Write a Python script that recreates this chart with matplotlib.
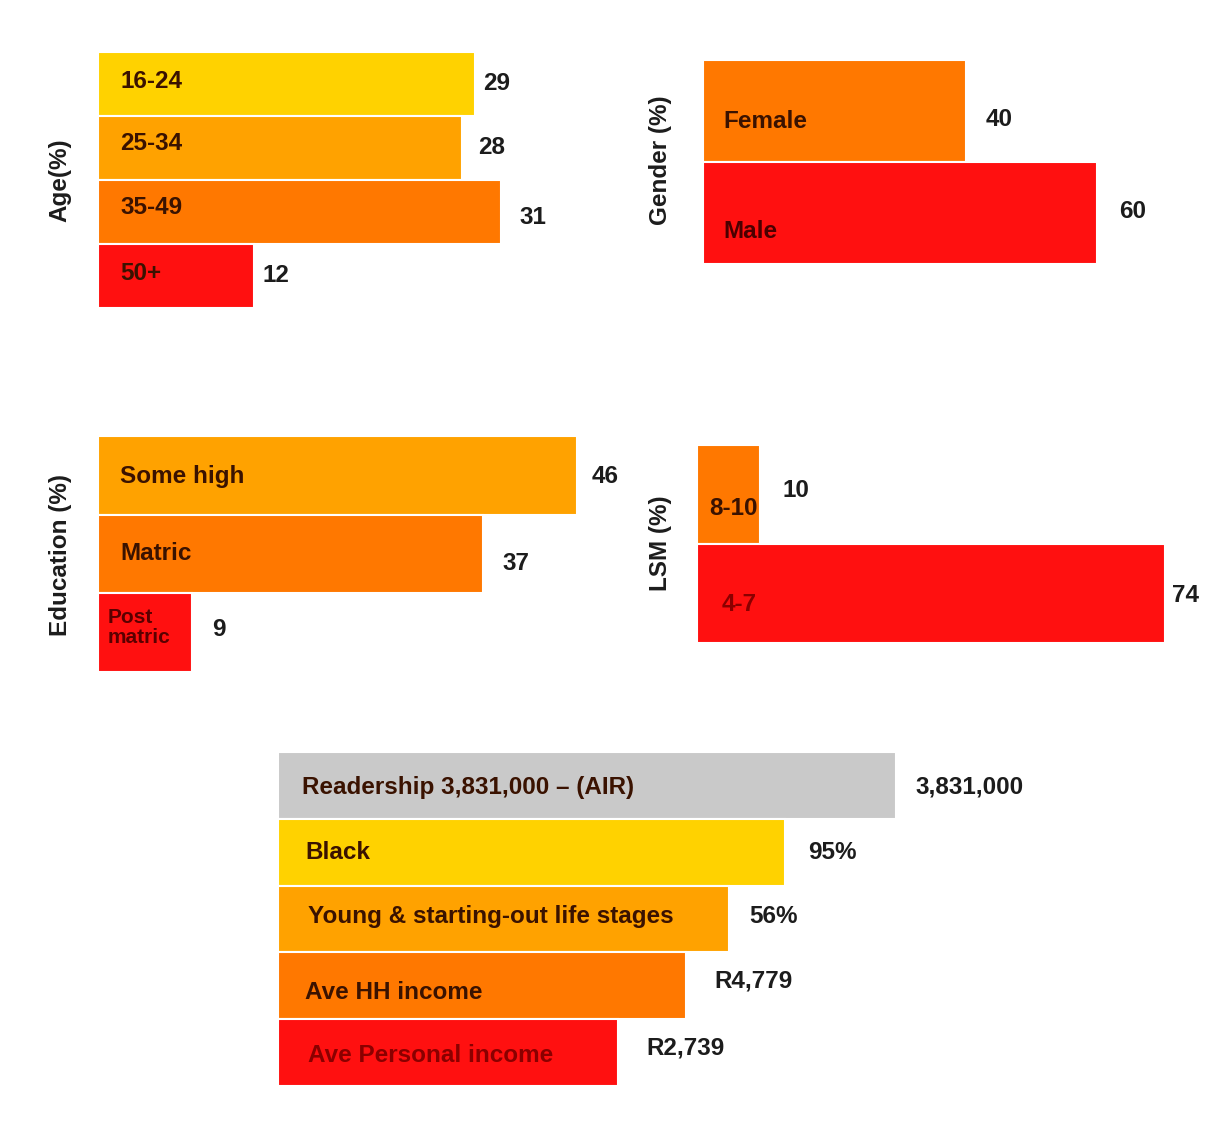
import matplotlib
matplotlib.use("Agg")
import matplotlib.pyplot as plt

# ---------------- data ----------------
age_labels = ["16-24", "25-34", "35-49", "50+"]
age_values = [29, 28, 31, 12]

gender_labels = ["Female", "Male"]
gender_values = [40, 60]

edu_labels = ["Some high", "Matric", "Post\nmatric"]
edu_values = [46, 37, 9]

lsm_labels = ["8-10", "4-7"]
lsm_values = [10, 74]

summary_labels = ["Readership 3,831,000 \u2013 (AIR)", "Black",
                  "Young & starting-out life stages", "Ave HH income",
                  "Ave Personal income"]
summary_bar_values = [100, 82, 73, 66, 55]   # relative bar lengths
summary_value_text = ["3,831,000", "95%", "56%", "R4,779", "R2,739"]

# ---------------- styles ----------------
YEL = "#FFD200"
AMB = "#FFA200"
ORG = "#FF7800"
RED = "#FF1010"
GRY = "#C9C9C9"

W, H = 1225, 1129
DPI = 100
FONT = "Liberation Sans"
FS = 17.5
INK = "#3a1200"
VAL = "#1c1c1c"

fig = plt.figure(figsize=(W / DPI, H / DPI), dpi=DPI)
fig.patch.set_facecolor("white")


def px_axes(left, top, width, height):
    return fig.add_axes([left / W, 1 - (top + height) / H, width / W, height / H])


def panel(left, top, height, scale, labels, values, colors, value_texts,
          lab_dx, lab_dy, val_dx, val_dy, ink_colors=None, width=560,
          lab_fs=None):
    ax = px_axes(left, top, width, height)
    n = len(values)
    ys = list(range(n))
    ax.barh(ys, values, height=1.0, color=colors, edgecolor="white",
            linewidth=1.5)
    ax.set_xlim(0, width / scale)
    ax.set_ylim(n - 0.5, -0.5)
    ax.axis("off")
    for i in range(n):
        ic = INK if ink_colors is None else ink_colors[i]
        fs = FS if lab_fs is None else lab_fs[i]
        ax.annotate(labels[i], xy=(0, ys[i]), xytext=(lab_dx[i], -lab_dy[i]),
                    textcoords="offset pixels", ha="left", va="center",
                    fontsize=fs, fontweight="bold", family=FONT, color=ic,
                    linespacing=1.05)
        ax.annotate(value_texts[i], xy=(values[i], ys[i]),
                    xytext=(val_dx[i], -val_dy[i]), textcoords="offset pixels",
                    ha="left", va="center", fontsize=FS, fontweight="bold",
                    family=FONT, color=VAL)
    return ax


# Age
panel(98, 52, 256, 13.0, age_labels, age_values, [YEL, AMB, ORG, RED],
      [str(v) for v in age_values],
      lab_dx=[22, 22, 22, 22], lab_dy=[-2, -4, -4, -2],
      val_dx=[8, 16, 18, 8], val_dy=[0, 0, 6, 0])

# Gender
panel(703, 60, 204, 6.57, gender_labels, gender_values, [ORG, RED],
      [str(v) for v in gender_values],
      lab_dx=[20, 20], lab_dy=[11, 18],
      val_dx=[20, 22], val_dy=[8, -2],
      ink_colors=[INK, "#4a0000"], width=500)

# Education
panel(98, 436, 236, 10.41, edu_labels, edu_values, [AMB, ORG, RED],
      [str(v) for v in edu_values],
      lab_dx=[22, 22, 10], lab_dy=[1, -1, -5],
      val_dx=[15, 19, 20], val_dy=[1, 9, -3],
      ink_colors=[INK, INK, "#5a0000"], lab_fs=[FS, FS, 15])

# LSM
panel(697, 445, 198, 6.32, lsm_labels, lsm_values, [ORG, RED],
      [str(v) for v in lsm_values],
      lab_dx=[12, 25], lab_dy=[14, 11],
      val_dx=[22, 7], val_dy=[-4, 2],
      ink_colors=[INK, "#8a0000"], width=520)

# Summary
panel(278, 752, 334, 6.18, summary_labels, summary_bar_values,
      [GRY, YEL, AMB, ORG, RED], summary_value_text,
      lab_dx=[24, 27, 30, 27, 30], lab_dy=[2, 0, -2, 7, 3],
      val_dx=[19, 23, 20, 28, 28], val_dy=[2, 0, -2, -5, -5],
      ink_colors=[INK, INK, INK, INK, "#8a0000"], width=900)

# axis titles
def vlabel(x, y, s):
    fig.text(x / W, 1 - y / H, s, rotation=90, ha="center", va="center",
             fontsize=FS, fontweight="bold", family=FONT, color=VAL)

vlabel(60, 180, "Age(%)")
vlabel(660, 160, "Gender (%)")
vlabel(60, 555, "Education (%)")
vlabel(660, 543, "LSM (%)")

fig.savefig("out.png", dpi=DPI, facecolor="white")
